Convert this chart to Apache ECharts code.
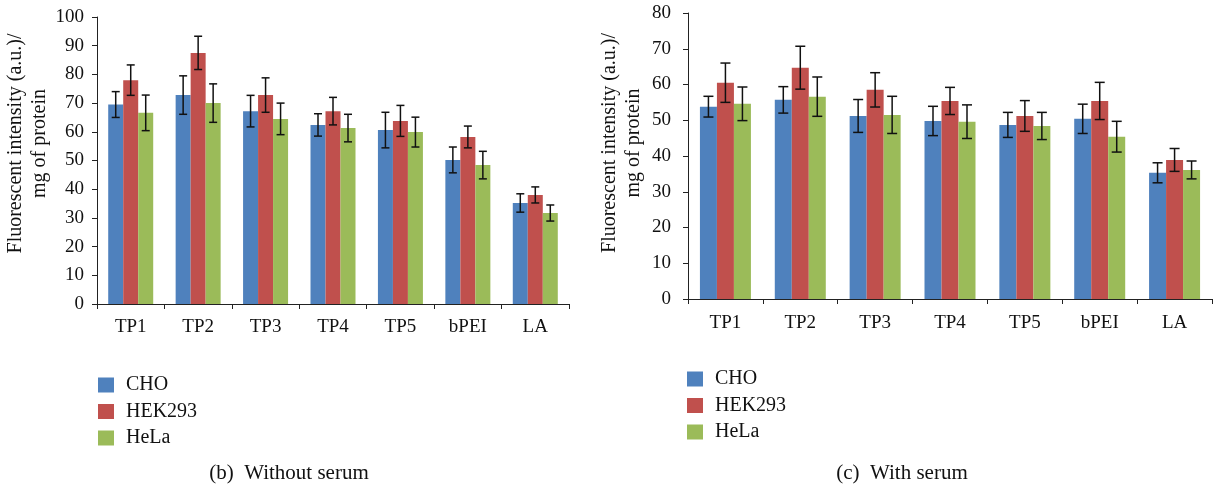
<!DOCTYPE html>
<html>
<head>
<meta charset="utf-8">
<title>Fluorescent intensity per mg of protein</title>
<script src="https://cdn.jsdelivr.net/npm/echarts@6/dist/echarts.min.js"></script>
<style>
  html, body { margin: 0; padding: 0; background: #fff; }
  #chart { width: 1213px; height: 487px; }
</style>
</head>
<body>
<div id="chart"></div>
<script>
// Categories and cell lines
const categories = ['TP1', 'TP2', 'TP3', 'TP4', 'TP5', 'bPEI', 'LA'];
const cellLines = ['CHO', 'HEK293', 'HeLa'];

// (b) Without serum: means and error (±)
const noSerumCHO = [69.5, 72.8, 67.2, 62.4, 60.6, 50.2, 35.2];
const noSerumCHOErr = [4.5, 6.7, 5.5, 3.9, 6.2, 4.5, 3.2];
const noSerumHEK = [78.0, 87.5, 72.8, 67.2, 63.8, 58.2, 38.0];
const noSerumHEKErr = [5.3, 5.8, 6.0, 4.8, 5.4, 3.8, 2.8];
const noSerumHeLa = [66.6, 70.0, 64.5, 61.3, 59.9, 48.4, 31.7];
const noSerumHeLaErr = [6.2, 6.7, 5.5, 4.8, 5.2, 4.8, 2.8];

// (c) With serum: means and error (±)
const serumCHO = [53.8, 55.7, 51.2, 49.8, 48.7, 50.4, 35.3];
const serumCHOErr = [2.9, 3.7, 4.6, 4.1, 3.5, 4.1, 2.8];
const serumHEK = [60.5, 64.7, 58.5, 55.4, 51.2, 55.4, 38.9];
const serumHEKErr = [5.5, 6.0, 4.8, 3.8, 4.3, 5.2, 3.2];
const serumHeLa = [54.6, 56.6, 51.5, 49.6, 48.4, 45.4, 36.1];
const serumHeLaErr = [4.7, 5.5, 5.2, 4.7, 3.8, 4.3, 2.5];

// Y-axis ticks
const noSerumAxis = { min: 0, max: 100, interval: 10 };
const serumAxis = { min: 0, max: 80, interval: 10 };

const colors = ['#4F81BD', '#C0504D', '#9BBB59'];
const FONT = 'Liberation Serif';
const axisColor = '#222';
const axisTitle = 'Fluorescent intensity (a.u.)/\nmg of protein';

const chart = echarts.init(document.getElementById('chart'), null, { renderer: 'canvas' });

function xAxisCfg(gridIndex, margin) {
  return {
    type: 'category',
    gridIndex: gridIndex,
    data: categories,
    axisLine: { lineStyle: { color: axisColor, width: 1 } },
    axisTick: { show: true, length: 5, alignWithLabel: false, lineStyle: { color: axisColor } },
    axisLabel: { color: '#111', fontFamily: FONT, fontSize: 19, margin: margin },
    splitLine: { show: false }
  };
}

// Title block is nudged toward the top of the axis via left padding (rotated frame)
function yAxisCfg(gridIndex, range, nameGap, labelMargin, nameShift) {
  return {
    type: 'value',
    gridIndex: gridIndex,
    min: range.min,
    max: range.max,
    interval: range.interval,
    name: axisTitle,
    nameLocation: 'middle',
    nameRotate: 90,
    nameGap: nameGap,
    nameTextStyle: {
      color: '#111', fontFamily: FONT, fontSize: 20, lineHeight: 24,
      padding: [0, 0, 0, nameShift]
    },
    axisLine: { show: true, lineStyle: { color: axisColor, width: 1 } },
    axisTick: { show: true, length: 5, lineStyle: { color: axisColor } },
    axisLabel: { color: '#111', fontFamily: FONT, fontSize: 19, margin: labelMargin },
    splitLine: { show: false }
  };
}

// Bars for one panel
function barSeries(axisIndex, values, barWidth) {
  return values.map((vals, k) => ({
    name: cellLines[k],
    type: 'bar',
    xAxisIndex: axisIndex,
    yAxisIndex: axisIndex,
    data: vals,
    barWidth: barWidth,
    barGap: '0%',
    itemStyle: { color: colors[k] },
    z: 2
  }));
}

// Error bars with caps, drawn over the bar of the same cell line
function errorSeries(axisIndex, values, errors, barWidth, capHalf) {
  return values.map((vals, k) => ({
    name: cellLines[k],
    type: 'custom',
    xAxisIndex: axisIndex,
    yAxisIndex: axisIndex,
    z: 5,
    silent: true,
    data: vals.map((v, i) => [i, v, errors[k][i]]),
    renderItem: function (params, api) {
      const idx = api.value(0);
      const mean = api.value(1);
      const err = api.value(2);
      const offset = (k - 1) * barWidth;
      const hi = api.coord([idx, mean + err]);
      const lo = api.coord([idx, mean - err]);
      const x = hi[0] + offset;
      const style = { stroke: '#111', lineWidth: 1.5 };
      return {
        type: 'group',
        children: [
          { type: 'line', shape: { x1: x, y1: hi[1], x2: x, y2: lo[1] }, style: style },
          { type: 'line', shape: { x1: x - capHalf, y1: hi[1], x2: x + capHalf, y2: hi[1] }, style: style },
          { type: 'line', shape: { x1: x - capHalf, y1: lo[1], x2: x + capHalf, y2: lo[1] }, style: style }
        ]
      };
    }
  }));
}

const noSerumVals = [noSerumCHO, noSerumHEK, noSerumHeLa];
const noSerumErrs = [noSerumCHOErr, noSerumHEKErr, noSerumHeLaErr];
const serumVals = [serumCHO, serumHEK, serumHeLa];
const serumErrs = [serumCHOErr, serumHEKErr, serumHeLaErr];

function legendCfg(left, top, textPad) {
  return {
    data: cellLines,
    orient: 'vertical',
    left: left,
    top: top,
    itemWidth: 16,
    itemHeight: 15,
    itemGap: 6.5,
    icon: 'rect',
    selectedMode: false,
    padding: 0,
    textStyle: { color: '#111', fontFamily: FONT, fontSize: 20, lineHeight: 20, padding: [0, 0, 0, textPad] }
  };
}

function caption(text, cx, cy) {
  return {
    type: 'text',
    x: cx,
    y: cy,
    style: {
      text: text,
      fill: '#111',
      font: '21px "Liberation Serif"',
      align: 'center',
      verticalAlign: 'middle',
      textAlign: 'center',
      textVerticalAlign: 'middle'
    }
  };
}

const option = {
  animation: false,
  backgroundColor: '#fff',
  grid: [
    { left: 97, right: 644, top: 17, bottom: 183 },
    { left: 688, right: 1, top: 13, bottom: 188 }
  ],
  xAxis: [xAxisCfg(0, 14), xAxisCfg(1, 15)],
  yAxis: [yAxisCfg(0, noSerumAxis, 41, 13, 34), yAxisCfg(1, serumAxis, 42, 17, 26)],
  legend: [legendCfg(98, 375, 7), legendCfg(687, 369, 7)],
  graphic: [
    caption('(b)  Without serum', 289, 473),
    caption('(c)  With serum', 902, 473)
  ],
  series: [].concat(
    barSeries(0, noSerumVals, 15),
    barSeries(1, serumVals, 17),
    errorSeries(0, noSerumVals, noSerumErrs, 15, 4),
    errorSeries(1, serumVals, serumErrs, 17, 5)
  )
};

chart.setOption(option);
</script>
</body>
</html>
